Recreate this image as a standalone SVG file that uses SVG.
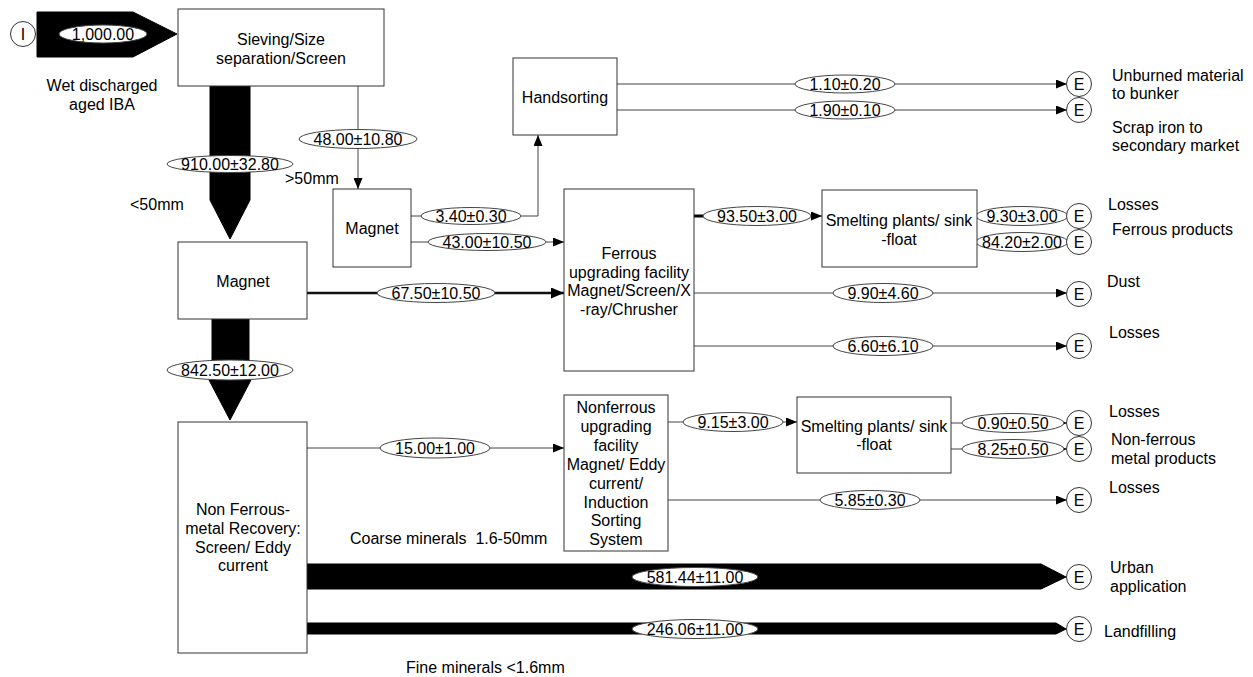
<svg xmlns="http://www.w3.org/2000/svg" width="1253" height="677" viewBox="0 0 1253 677">
<style>
text{font-family:"Liberation Sans",Arial,sans-serif;font-size:16px;fill:#000}
.c{text-anchor:middle}
.box{fill:#fff;stroke:#333;stroke-width:1}
.ln{fill:none;stroke:#444;stroke-width:1}
.thick{fill:none;stroke:#111;stroke-width:2.5}
.lbl{fill:#fff;stroke:#444;stroke-width:1}
.flow{fill:#000;stroke:#000;stroke-width:1}
.term{fill:#fff;stroke:#333;stroke-width:1}
</style>
<defs>
<marker id="ah" markerUnits="userSpaceOnUse" markerWidth="11" markerHeight="9" refX="11" refY="4.5" orient="auto">
<path d="M0,0 L11,4.5 L0,9 Z" fill="#000"/>
</marker>
<marker id="ahb" markerUnits="userSpaceOnUse" markerWidth="13" markerHeight="11" refX="13" refY="5.5" orient="auto">
<path d="M0,0 L13,5.5 L0,11 Z" fill="#000"/>
</marker>
</defs>
<rect width="1253" height="677" fill="#fff"/>

<g id="connectors">
<path class="flow" d="M37,12 H133 L177,34 L133,57 H37 Z"/>
<path class="flow" d="M210,86 H250 V200 L230,239 L210,200 Z"/>
<path class="ln" d="M358,86 V189" marker-end="url(#ah)"/>
<path class="ln" d="M411,216 H538 V135" marker-end="url(#ah)"/>
<path class="ln" d="M411,242 H564" marker-end="url(#ah)"/>
<path class="thick" d="M307,293 H564" marker-end="url(#ahb)"/>
<path class="flow" d="M212,319 H249 V380 L251,380 L230,420 L209,380 L212,380 Z"/>
<path class="ln" d="M617,84 H1067" marker-end="url(#ah)"/>
<path class="ln" d="M617,110 H1067" marker-end="url(#ah)"/>
<path class="ln" d="M694,216 H822" marker-end="url(#ah)"/>
<path fill="none" stroke="#000" stroke-width="3" d="M694,216 H704"/>
<path class="ln" d="M977,216 H1067"/>
<path class="ln" d="M977,242 H1067"/>
<path class="ln" d="M694,293 H1067" marker-end="url(#ah)"/>
<path class="ln" d="M694,346 H1067" marker-end="url(#ah)"/>
<path class="ln" d="M307,448 H564" marker-end="url(#ah)"/>
<path class="ln" d="M668,422 H797" marker-end="url(#ah)"/>
<path class="ln" d="M951,423 H1067" marker-end="url(#ah)"/>
<path class="ln" d="M951,449 H1067" marker-end="url(#ah)"/>
<path class="ln" d="M668,500 H1067" marker-end="url(#ah)"/>
<path class="flow" d="M307,564 H1041 L1066,577 L1041,589 H307 Z"/>
<path class="flow" d="M307,623 H1056 L1066,629 L1056,634 H307 Z"/>

<ellipse class="lbl" cx="103" cy="34" rx="44" ry="9"/>
<text class="c" x="103" y="40">1,000.00</text>
<ellipse class="lbl" cx="230" cy="164" rx="63" ry="8.5"/>
<text class="c" x="230" y="170">910.00±32.80</text>
<ellipse class="lbl" cx="358" cy="139" rx="59" ry="9.5"/>
<text class="c" x="358" y="145">48.00±10.80</text>
<ellipse class="lbl" cx="471" cy="216" rx="50" ry="8.5"/>
<text class="c" x="471" y="222">3.40±0.30</text>
<ellipse class="lbl" cx="487" cy="242" rx="59" ry="8.5"/>
<text class="c" x="487" y="248">43.00±10.50</text>
<ellipse class="lbl" cx="436" cy="293" rx="59" ry="9.5"/>
<text class="c" x="436" y="299">67.50±10.50</text>
<ellipse class="lbl" cx="845" cy="84" rx="50" ry="9"/>
<text class="c" x="845" y="90">1.10±0.20</text>
<ellipse class="lbl" cx="845" cy="110" rx="50" ry="9"/>
<text class="c" x="845" y="116">1.90±0.10</text>
<ellipse class="lbl" cx="757" cy="216" rx="54" ry="9.5"/>
<text class="c" x="757" y="222">93.50±3.00</text>
<ellipse class="lbl" cx="1022" cy="216" rx="46" ry="9.5"/>
<text class="c" x="1022" y="222">9.30±3.00</text>
<ellipse class="lbl" cx="1022" cy="242" rx="46" ry="9.5"/>
<text class="c" x="1022" y="248">84.20±2.00</text>
<ellipse class="lbl" cx="883" cy="293" rx="50" ry="9.5"/>
<text class="c" x="883" y="299">9.90±4.60</text>
<ellipse class="lbl" cx="883" cy="346" rx="50" ry="9.5"/>
<text class="c" x="883" y="352">6.60±6.10</text>
<ellipse class="lbl" cx="230" cy="370" rx="63" ry="10"/>
<text class="c" x="230" y="376">842.50±12.00</text>
<ellipse class="lbl" cx="435" cy="448" rx="55" ry="10"/>
<text class="c" x="435" y="454">15.00±1.00</text>
<ellipse class="lbl" cx="733" cy="422" rx="50" ry="9.5"/>
<text class="c" x="733" y="428">9.15±3.00</text>
<ellipse class="lbl" cx="1013" cy="423" rx="51" ry="9.5"/>
<text class="c" x="1013" y="429">0.90±0.50</text>
<ellipse class="lbl" cx="1013" cy="449" rx="51" ry="9.5"/>
<text class="c" x="1013" y="455">8.25±0.50</text>
<ellipse class="lbl" cx="870" cy="500" rx="50" ry="9.5"/>
<text class="c" x="870" y="506">5.85±0.30</text>
<ellipse class="lbl" cx="695" cy="577" rx="63" ry="9.5"/>
<text class="c" x="695" y="583">581.44±11.00</text>
<ellipse class="lbl" cx="695" cy="629" rx="63" ry="9.5"/>
<text class="c" x="695" y="635">246.06±11.00</text>
</g>

<g id="input">
<circle class="term" cx="23" cy="34" r="12.5"/>
<text class="c" x="23" y="40">I</text>
<text class="c" x="102" y="91">Wet discharged</text>
<text class="c" x="102" y="110">aged IBA</text>
</g>

<g id="sieving">
<rect class="box" x="178" y="9" width="206" height="77"/>
<text class="c" x="281" y="45">Sieving/Size</text>
<text class="c" x="281" y="64">separation/Screen</text>
</g>

<g id="size-labels">
<text x="285" y="184">&gt;50mm</text>
<text x="130" y="210">&lt;50mm</text>
</g>

<g id="magnet-coarse">
<rect class="box" x="333" y="189" width="78" height="78"/>
<text class="c" x="372" y="234">Magnet</text>
</g>

<g id="handsorting">
<rect class="box" x="513" y="58" width="104" height="77"/>
<text class="c" x="565" y="103">Handsorting</text>
</g>

<g id="magnet-fine">
<rect class="box" x="178" y="242" width="129" height="77"/>
<text class="c" x="243" y="287">Magnet</text>
</g>

<g id="ferrous-upgrading">
<rect class="box" x="564" y="189" width="130" height="182"/>
<text class="c" x="629" y="259">Ferrous</text>
<text class="c" x="629" y="278">upgrading facility</text>
<text class="c" x="629" y="296">Magnet/Screen/X</text>
<text class="c" x="629" y="315">-ray/Chrusher</text>
</g>

<g id="smelting-ferrous">
<rect class="box" x="822" y="190" width="155" height="77"/>
<text class="c" x="899" y="226">Smelting plants/ sink</text>
<text class="c" x="899" y="245">-float</text>
</g>

<g id="nonferrous-recovery">
<rect class="box" x="178" y="422" width="129" height="231"/>
<text class="c" x="243" y="515">Non Ferrous-</text>
<text class="c" x="243" y="534">metal Recovery:</text>
<text class="c" x="243" y="553">Screen/ Eddy</text>
<text class="c" x="243" y="571">current</text>
</g>

<g id="nonferrous-upgrading">
<rect class="box" x="564" y="395" width="104" height="156"/>
<text class="c" x="616" y="413">Nonferrous</text>
<text class="c" x="616" y="432">upgrading</text>
<text class="c" x="616" y="451">facility</text>
<text class="c" x="616" y="470">Magnet/ Eddy</text>
<text class="c" x="616" y="489">current/</text>
<text class="c" x="616" y="508">Induction</text>
<text class="c" x="616" y="526">Sorting</text>
<text class="c" x="616" y="545">System</text>
</g>

<g id="smelting-nonferrous">
<rect class="box" x="797" y="397" width="154" height="76"/>
<text class="c" x="874" y="432">Smelting plants/ sink</text>
<text class="c" x="874" y="450">-float</text>
</g>

<g id="mineral-labels">
<text x="350" y="544" xml:space="preserve">Coarse minerals  1.6-50mm</text>
<text x="406" y="673">Fine minerals &lt;1.6mm</text>
</g>

<g id="exits">
<circle class="term" cx="1079" cy="84" r="12.5"/><text class="c" x="1079" y="90">E</text>
<circle class="term" cx="1079" cy="110" r="12.5"/><text class="c" x="1079" y="116">E</text>
<circle class="term" cx="1079" cy="216" r="12.5"/><text class="c" x="1079" y="222">E</text>
<circle class="term" cx="1079" cy="242" r="12.5"/><text class="c" x="1079" y="248">E</text>
<circle class="term" cx="1079" cy="294" r="12.5"/><text class="c" x="1079" y="300">E</text>
<circle class="term" cx="1079" cy="346" r="12.5"/><text class="c" x="1079" y="352">E</text>
<circle class="term" cx="1079" cy="423" r="12.5"/><text class="c" x="1079" y="429">E</text>
<circle class="term" cx="1079" cy="449" r="12.5"/><text class="c" x="1079" y="455">E</text>
<circle class="term" cx="1079" cy="500" r="12.5"/><text class="c" x="1079" y="506">E</text>
<circle class="term" cx="1079" cy="577" r="12.5"/><text class="c" x="1079" y="583">E</text>
<circle class="term" cx="1079" cy="629" r="12.5"/><text class="c" x="1079" y="635">E</text>
</g>

<g id="exit-labels">
<text x="1112" y="81">Unburned material</text>
<text x="1112" y="99">to bunker</text>
<text x="1112" y="133">Scrap iron to</text>
<text x="1112" y="151">secondary market</text>
<text x="1108" y="210">Losses</text>
<text x="1112" y="235">Ferrous products</text>
<text x="1107" y="287">Dust</text>
<text x="1109" y="338">Losses</text>
<text x="1109" y="417">Losses</text>
<text x="1111" y="445">Non-ferrous</text>
<text x="1111" y="464">metal products</text>
<text x="1109" y="493">Losses</text>
<text x="1110" y="573">Urban</text>
<text x="1110" y="592">application</text>
<text x="1104" y="637">Landfilling</text>
</g>
</svg>
